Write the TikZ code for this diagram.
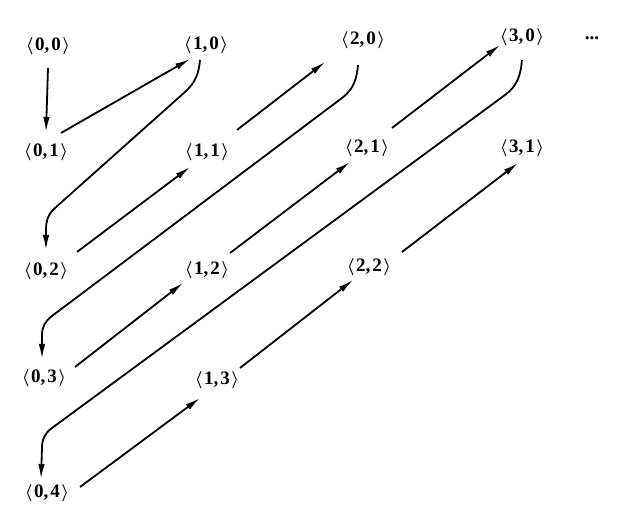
\documentclass[tikz,border=0pt]{standalone}
\usepackage{fontspec}
\setmainfont{Liberation Serif}
\usetikzlibrary{arrows.meta,calc}
\begin{document}
\begin{tikzpicture}[x=1pt,y=-1pt,
  pair/.style={inner sep=0pt,font=\fontsize{19}{23}\selectfont\bfseries\boldmath},
  link/.style={line width=1.8pt,-{Latex[length=15pt,width=6.5pt]}}]
\useasboundingbox[fill=white] (0,0) rectangle (624,518);
\newcommand{\pr}[2]{$\langle$\kern1.5pt#1,\kern2pt#2\kern1.5pt$\rangle$}
\node[pair] (n00) at (48,46) {\pr{0}{0}};
\node[pair] (n10) at (206,45) {\pr{1}{0}};
\node[pair] (n20) at (363,40) {\pr{2}{0}};
\node[pair] (n30) at (522,37) {\pr{3}{0}};
\node[pair] (dots) at (592,38) {...};
\node[pair] (n01) at (46,152) {\pr{0}{1}};
\node[pair] (n11) at (207,152) {\pr{1}{1}};
\node[pair] (n21) at (367,148) {\pr{2}{1}};
\node[pair] (n31) at (522,148) {\pr{3}{1}};
\node[pair] (n02) at (46,271) {\pr{0}{2}};
\node[pair] (n12) at (207,270) {\pr{1}{2}};
\node[pair] (n22) at (369,267) {\pr{2}{2}};
\node[pair] (n03) at (44,378) {\pr{0}{3}};
\node[pair] (n13) at (217,380) {\pr{1}{3}};
\node[pair] (n04) at (47,493) {\pr{0}{4}};
% connectors
\draw[link] ($(n00)+(0,22)$) -- ($(n01)+(0,-20)$);
\draw[link] ($(n01)+(15,-19)$) -- ($(n10)+(-16,14)$);
\draw[link] ($(n10)+(-6,15)$) to[out=-95,in=42] (185,92) -- (55,208)
  to[out=222,in=90] (46,230) -- ($(n02)+(0,-21)$);
\draw[link] ($(n02)+(31,-19)$) -- ($(n11)+(-17,15)$);
\draw[link] ($(n11)+(30,-22)$) -- ($(n20)+(-38,22)$);
\draw[link] ($(n20)+(-5,25)$) to[out=-95,in=37] (342,98) -- (52,316)
  to[out=217,in=90] (42,335) -- ($(n03)+(-2,-19)$);
\draw[link] ($(n03)+(31,-11)$) -- ($(n12)+(-24,13)$);
\draw[link] ($(n12)+(23,-17)$) -- ($(n21)+(-17,14)$);
\draw[link] ($(n21)+(25,-20)$) -- ($(n30)+(-22,8)$);
\draw[link] ($(n30)+(0,23)$) to[out=-95,in=36] (505,95) -- (52,428)
  to[out=216,in=90] (42,448) -- ($(n04)+(-6,-14)$);
\draw[link] ($(n04)+(33,-6)$) -- ($(n13)+(-17,18)$);
\draw[link] ($(n13)+(23,-12)$) -- ($(n22)+(-16,13)$);
\draw[link] ($(n22)+(33,-15)$) -- ($(n31)+(-4,15)$);
\end{tikzpicture}
\end{document}
